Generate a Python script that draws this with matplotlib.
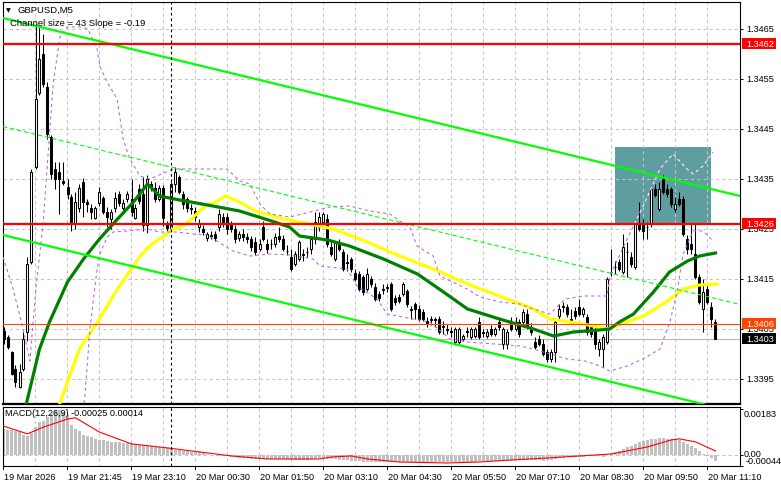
import numpy as np
import matplotlib
matplotlib.use('Agg')
import matplotlib.pyplot as plt
from matplotlib.patches import Rectangle
from matplotlib.transforms import blended_transform_factory

plt.rcParams['font.family'] = ['Liberation Sans', 'DejaVu Sans']

# ---------------- data (GBPUSD M5, prices in points: 1 point = 0.00001) -------------
opens = [134046, 134034, 134004, 133970, 133934, 133970, 134044, 134184, 134374, 134522,
         134600, 134534, 134434, 134370, 134364, 134346, 134334, 134314, 134262, 134292,
         134344, 134304, 134292, 134272, 134302, 134312, 134284, 134270, 134292, 134320,
         134292, 134310, 134310, 134272, 134330, 134320, 134258, 134340, 134332, 134310,
         134332, 134262, 134250, 134340, 134354, 134320, 134310, 134292, 134286, 134254,
         134250, 134232, 134238, 134240, 134254, 134274, 134274, 134260, 134250, 134232,
         134240, 134234, 134230, 134224, 134210, 134254, 134220, 134220, 134220, 134236,
         134230, 134206, 134194, 134180, 134190, 134200, 134204, 134210, 134230, 134254,
         134264, 134270, 134214, 134190, 134224, 134204, 134184, 134190, 134162, 134160,
         134154, 134130, 134150, 134134, 134120, 134130, 134134, 134140, 134112, 134114,
         134120, 134126, 134090, 134100, 134090, 134084, 134066, 134070, 134070, 134070,
         134056, 134050, 134046, 134024, 134024, 134030, 134046, 134034, 134036, 134064,
         134044, 134036, 134050, 134040, 134064, 134020, 134020, 134064, 134050, 134064,
         134064, 134080, 134054, 134024, 134030, 134020, 134004, 133990, 134004, 134076,
         134096, 134094, 134070, 134086, 134094, 134080, 134074, 134054, 134050, 134010,
         134010, 134024, 134164, 134174, 134184, 134164, 134204, 134194, 134174, 134260,
         134260, 134254, 134260, 134330, 134290, 134350, 134330, 134330, 134290, 134310,
         134310, 134230, 134220, 134200, 134154, 134090, 134130, 134094, 134064]
highs = [134054, 134038, 134006, 133978, 133980, 134044, 134194, 134370, 134660, 134656,
         134640, 134544, 134438, 134384, 134384, 134384, 134350, 134320, 134324, 134340,
         134352, 134310, 134300, 134296, 134334, 134316, 134294, 134290, 134324, 134326,
         134310, 134326, 134350, 134300, 134340, 134354, 134358, 134346, 134344, 134338,
         134338, 134266, 134344, 134374, 134358, 134326, 134314, 134300, 134294, 134270,
         134258, 134244, 134246, 134246, 134290, 134282, 134282, 134266, 134258, 134246,
         134250, 134242, 134236, 134234, 134230, 134266, 134230, 134230, 134242, 134254,
         134238, 134218, 134210, 134206, 134228, 134210, 134214, 134236, 134284, 134284,
         134284, 134280, 134224, 134224, 134230, 134210, 134200, 134194, 134170, 134166,
         134158, 134172, 134156, 134142, 134126, 134140, 134140, 134144, 134118, 134120,
         134144, 134130, 134096, 134104, 134098, 134090, 134074, 134076, 134074, 134076,
         134066, 134060, 134054, 134054, 134054, 134040, 134054, 134054, 134054, 134074,
         134050, 134050, 134058, 134054, 134070, 134054, 134050, 134074, 134074, 134070,
         134090, 134090, 134062, 134034, 134038, 134030, 134010, 134010, 134070, 134100,
         134104, 134100, 134090, 134094, 134110, 134094, 134080, 134060, 134056, 134030,
         134040, 134154, 134210, 134186, 134190, 134240, 134224, 134204, 134264, 134304,
         134270, 134264, 134334, 134340, 134344, 134358, 134340, 134334, 134314, 134324,
         134316, 134238, 134260, 134260, 134160, 134150, 134140, 134104, 134070]
lows = [134020, 134010, 133958, 133934, 133932, 133966, 134026, 134180, 134370, 134518,
        134534, 134430, 134350, 134330, 134280, 134338, 134310, 134246, 134250, 134284,
        134274, 134284, 134270, 134270, 134296, 134280, 134254, 134250, 134284, 134296,
        134280, 134304, 134276, 134270, 134300, 134246, 134242, 134326, 134304, 134306,
        134256, 134240, 134246, 134324, 134320, 134290, 134284, 134280, 134266, 134244,
        134238, 134226, 134230, 134226, 134246, 134254, 134240, 134244, 134222, 134226,
        134226, 134222, 134206, 134198, 134206, 134226, 134202, 134210, 134214, 134224,
        134206, 134198, 134166, 134176, 134186, 134186, 134194, 134200, 134220, 134246,
        134258, 134214, 134196, 134186, 134206, 134166, 134166, 134164, 134146, 134126,
        134118, 134126, 134134, 134106, 134106, 134120, 134124, 134086, 134098, 134102,
        134116, 134094, 134070, 134070, 134066, 134066, 134054, 134058, 134054, 134040,
        134040, 134040, 134034, 134018, 134020, 134026, 134034, 134030, 134032, 134030,
        134034, 134032, 134036, 134036, 134048, 134010, 134010, 134046, 134046, 134034,
        134058, 134050, 134038, 134010, 134016, 133996, 133984, 133984, 133984, 134070,
        134084, 134074, 134060, 134070, 134076, 134074, 134038, 134034, 134010, 133996,
        133974, 134020, 134156, 134160, 134166, 134160, 134154, 134174, 134170, 134246,
        134230, 134230, 134254, 134314, 134286, 134320, 134314, 134294, 134284, 134296,
        134236, 134200, 134200, 134150, 134100, 134044, 134100, 134054, 134030]
closes = [134030, 134014, 133960, 133944, 133964, 134030, 134180, 134364, 134510, 134590,
          134540, 134440, 134360, 134350, 134350, 134342, 134320, 134264, 134304, 134332,
          134304, 134300, 134284, 134292, 134324, 134284, 134274, 134284, 134312, 134302,
          134302, 134320, 134284, 134292, 134306, 134258, 134350, 134332, 134310, 134332,
          134272, 134252, 134340, 134364, 134324, 134300, 134292, 134290, 134274, 134260,
          134244, 134240, 134236, 134232, 134280, 134260, 134250, 134250, 134230, 134240,
          134234, 134230, 134214, 134204, 134220, 134230, 134210, 134220, 134234, 134230,
          134210, 134206, 134170, 134200, 134224, 134198, 134204, 134230, 134264, 134274,
          134280, 134220, 134200, 134224, 134210, 134170, 134182, 134170, 134150, 134130,
          134124, 134160, 134140, 134110, 134112, 134128, 134132, 134090, 134104, 134106,
          134140, 134100, 134088, 134090, 134070, 134070, 134060, 134068, 134068, 134044,
          134054, 134048, 134044, 134050, 134050, 134036, 134044, 134050, 134050, 134034,
          134042, 134044, 134040, 134050, 134054, 134050, 134044, 134050, 134064, 134040,
          134084, 134056, 134044, 134014, 134020, 134000, 133990, 134004, 134064, 134090,
          134094, 134080, 134068, 134076, 134080, 134090, 134044, 134040, 134020, 134024,
          134034, 134150, 134164, 134174, 134170, 134214, 134204, 134180, 134260, 134250,
          134246, 134254, 134330, 134318, 134330, 134324, 134320, 134300, 134300, 134300,
          134240, 134210, 134210, 134154, 134104, 134124, 134104, 134070, 134030]

# moving averages (bar index, price in points)
ma_green_bars = [4.5, 6, 9, 11.5, 16, 20, 24, 28.5, 32.5, 36, 39, 44, 51, 59, 67, 71.5, 74, 81,
                 86.5, 95, 103.5, 110, 116, 124, 132.5, 137.5, 142.5, 149, 151.5, 154, 157.5,
                 162.5, 166.5, 171, 174, 178]
ma_green_vals = [133860, 133910, 134010, 134064, 134144, 134190, 134230, 134270, 134304, 134340,
                 134316, 134308, 134298, 134286, 134266, 134254, 134236, 134228, 134216, 134190,
                 134160, 134124, 134090, 134070, 134050, 134036, 134044, 134048, 134050, 134064,
                 134080, 134124, 134164, 134186, 134196, 134202]
ma_yellow_bars = [12, 14, 19, 24, 28.5, 32.5, 34, 36.5, 42.5, 45, 50.5, 53.5, 55.5, 59, 63, 70,
                  74, 82.5, 91, 99, 107.5, 116, 124, 132.5, 136.5, 145, 151, 160, 166, 170, 174,
                  178.5]
ma_yellow_vals = [133830, 133900, 134010, 134070, 134130, 134176, 134194, 134216, 134250, 134256,
                  134296, 134306, 134316, 134304, 134286, 134270, 134264, 134250, 134224, 134196,
                  134170, 134140, 134116, 134090, 134070, 134060, 134050, 134076, 134106, 134130,
                  134138, 134140]
# Bollinger bands
bb_up_bars = [-0.1, 2.4, 4.9, 6.6, 8.1, 9.9, 12.4, 14.1, 15.9, 19.1, 21.1, 23.4, 24.1, 25.9, 28.4,
              29.9, 31.6, 34.1, 36.6, 42.4, 48.4, 55.9, 59.1, 61.6, 64.1, 66.6, 71.6, 76.6, 81.6,
              86.6, 91.6, 96.6, 99.1, 101.6, 103.4, 107.4, 109.1, 115.9, 119.1, 124.1, 129.1,
              132.4, 136.6, 140.4, 144.9, 150.9, 151.6, 155.9, 159.9, 164.1, 167.4, 170.9, 172.4,
              174.9, 177.4]
bb_up_vals = [134194, 134130, 134050, 133986, 134130, 134260, 134540, 134634, 134654, 134654,
              134650, 134610, 134576, 134544, 134510, 134430, 134390, 134356, 134350, 134370,
              134370, 134370, 134346, 134340, 134300, 134280, 134274, 134284, 134294, 134296,
              134286, 134280, 134266, 134254, 134216, 134196, 134156, 134130, 134114, 134104,
              134100, 134090, 134080, 134110, 134116, 134116, 134156, 134230, 134296, 134370,
              134400, 134370, 134360, 134376, 134404]
bb_dn_bars = [-0.1, 4.1, 14.1, 19.1, 20.4, 21.6, 23.4, 24.1, 25.9, 27.4, 30.9, 35.9, 39.1, 43.4,
              47.4, 50.9, 57.4, 61.6, 66.6, 71.6, 77.4, 79.1, 85.9, 88.4, 93.4, 95.9, 102.4,
              106.6, 111.6, 115.9, 122.9, 129.1, 132.4, 136.6, 140.9, 145.4, 149.1, 151.6, 155.9,
              159.9, 164.1, 166.6, 168.4, 169.9, 172.4, 174.9, 177.4]
bb_dn_vals = [133850, 133750, 133670, 133830, 133920, 134050, 134170, 134200, 134234, 134244,
              134246, 134250, 134244, 134244, 134240, 134238, 134206, 134196, 134200, 134198,
              134190, 134176, 134170, 134136, 134110, 134080, 134070, 134064, 134030, 134024,
              134020, 134016, 134010, 134000, 133990, 133986, 133976, 133966, 133976, 133990,
              134010, 134064, 134124, 134200, 134246, 134246, 134226]
# regression channel (Channel size = 43, Slope = -0.19)
chan_bars = [-0.125, 184.125]
chan_upper = [134672, 134316]
chan_mid = [134455, 134099]
chan_lower = [134238, 133882]
# horizontal levels
level_red = [1.3462, 1.3426]
level_orange = 1.3406
level_bid = 1.3403
zone = (152.9, 176.9, 1.3426, 1.34414)   # bar from, bar to, price low, price high
day_sep_bar = 42
# MACD (12,26,9) main histogram, points
macd = [103, 100, 98, 95, 92, 78, 75, 88, 110, 130, 135,
        150, 165, 178, 180, 172, 160, 120, 105, 95,
        80, 75, 70, 65, 60, 58, 55, 53, 52, 50, 48, 47, 46, 45,
        40, 38, 36, 34, 32, 30, 28, 26, 22, 20, 18, 16, 15, 13, 12, 10,
        6, 3, 0, -2, -3, -4, -6, -8, -10,
        -12, -13, -14, -15, -16, -16, -15, -16, -17, -16, -16, -17, -18, -20, -20, -19, -19, -19,
        -18, -16, -14, -13, -15, -17, -18,
        -19, -21, -22, -23, -24, -26, -27, -27, -27, -28, -28, -28,
        -28, -29, -29, -29, -28, -28, -29, -29, -29, -29, -29, -29, -28, -28, -28, -28, -28, -28,
        -27, -27, -27, -27, -27, -26, -26, -26, -25, -25, -25, -24,
        -24, -23, -22, -22, -21, -20, -21, -22, -22, -23,
        -22, -20, -16, -13, -11, -10, -9, -9,
        -8, -7, -6, -6, -6, -6, -7, -2, 4,
        10, 16, 24, 30, 36, 44, 50, 54, 58,
        62, 64, 66, 66, 65, 64, 62, 60,
        52, 44, 36, 26, 14, 4, -4, -14, -25]
sig_bars = [0, 6, 10, 16, 18, 24, 32, 41, 49, 57, 66, 79, 82, 87, 91, 99, 111, 119, 127, 136,
            144, 152, 161, 167, 169, 173, 178]
sig_vals = [115, 84, 111, 143, 148, 91, 44, 28, 12, -4, -16, -16, -8, -4, -16, -28, -32, -28,
            -20, -12, -4, 4, 32, 60, 64, 52, 16]
price_ticks = [1.3465, 1.3455, 1.3445, 1.3435, 1.3425, 1.3415, 1.3405, 1.3395]
time_labels = ["19 Mar 2026", "19 Mar 21:45", "19 Mar 23:10", "20 Mar 00:30", "20 Mar 01:50",
               "20 Mar 03:10", "20 Mar 04:30", "20 Mar 05:50", "20 Mar 07:10", "20 Mar 08:30",
               "20 Mar 09:50", "20 Mar 11:10"]

P = 1e-5
o = np.array(opens) * P
h = np.array(highs) * P
l = np.array(lows) * P
c = np.array(closes) * P
idx = np.arange(len(o))

W, H = 781, 489
fig = plt.figure(figsize=(W / 100, H / 100), dpi=100)
fig.patch.set_facecolor('white')

YMIN, YMAX = 1.33900, 1.34704
XMIN, XMAX = -0.125, 184.125
TOP, BOT, LEFT, RIGHT = 3, 405, 3, 740
MT, MB = 408, 467

ax = fig.add_axes([LEFT / W, 1 - BOT / H, (RIGHT - LEFT) / W, (BOT - TOP) / H])
ax2 = fig.add_axes([LEFT / W, 1 - MB / H, (RIGHT - LEFT) / W, (MB - MT) / H])
for a in (ax, ax2):
    a.set_xlim(XMIN, XMAX)
    a.set_facecolor('white')
    for s in a.spines.values():
        s.set_linewidth(0.8)
        s.set_color('black')
    a.set_xticks([])
    a.tick_params(axis='y', left=False, labelleft=False, right=True, labelright=False,
                  length=2.5, width=0.7, direction='out')
ax.spines['bottom'].set_linewidth(1.6)
ax.set_ylim(YMIN, YMAX)
ax2.set_ylim(-0.000438, 0.00191)

grid_kw = dict(color='#c4c4c4', lw=0.75, linestyles=(0, (3, 3)), zorder=1)
vgrid = [8 * k - 0.125 for k in range(1, 23)]
ax.vlines(vgrid, YMIN, YMAX, **grid_kw)
ax.hlines(price_ticks, XMIN, XMAX, **grid_kw)
ax2.vlines(vgrid, -0.001, 0.003, **grid_kw)
ax2.hlines([0], XMIN, XMAX, **grid_kw)

# zone rectangle
zone_rect = Rectangle((zone[0], zone[2]), zone[1] - zone[0], zone[3] - zone[2],
                      fc='#5f9ea0', ec='none', zorder=0.8)
ax.add_patch(zone_rect)

# bid line
ax.axhline(level_bid, color='#b8b8b8', lw=0.8, zorder=1.5)

# candles
ax.vlines(idx, l, h, color='black', lw=0.75, zorder=3)
up = c >= o
bb = np.minimum(o, c)
bh = np.maximum(np.abs(c - o), 0.000004)
ax.bar(idx[up], bh[up], bottom=bb[up], width=0.5, color='white', edgecolor='black',
       lw=0.75, zorder=4)
ax.bar(idx[~up], bh[~up], bottom=bb[~up], width=0.5, color='black', edgecolor='black',
       lw=0.75, zorder=4)

# indicators
ax.plot(ma_yellow_bars, np.array(ma_yellow_vals) * P, color='#ffff00', lw=2.3, zorder=5,
        solid_joinstyle='round')
ax.plot(ma_green_bars, np.array(ma_green_vals) * P, color='#008000', lw=2.3, zorder=6,
        solid_joinstyle='round')
bbcol = '#b464e0'
ax.plot(bb_up_bars, np.array(bb_up_vals) * P, color=bbcol, lw=0.75, ls=(0, (3, 3)), zorder=5.5)
ax.plot(bb_dn_bars, np.array(bb_dn_vals) * P, color=bbcol, lw=0.75, ls=(0, (3, 3)), zorder=5.5)
# inside the zone the band shows as white dashes
wline, = ax.plot(bb_up_bars, np.array(bb_up_vals) * P, color='white', lw=0.75,
                 ls=(0, (3, 3)), zorder=5.6)
wline.set_clip_path(zone_rect)
ax.plot(chan_bars, np.array(chan_upper) * P, color='#00ff00', lw=1.6, zorder=7)
ax.plot(chan_bars, np.array(chan_lower) * P, color='#00ff00', lw=1.6, zorder=7)
ax.plot(chan_bars, np.array(chan_mid) * P, color='#00ff00', lw=0.8, ls=(0, (4, 2.5)), zorder=7)

for lv in level_red:
    ax.axhline(lv, color='#ff0000', lw=1.6, zorder=8)
ax.axhline(level_orange, color='#ff4500', lw=0.8, zorder=8)

# day separator
for a in (ax, ax2):
    a.axvline(day_sep_bar, color='black', lw=0.8, ls=(0, (2.5, 2.5)), zorder=9)

# MACD
ax2.bar(idx, np.array(macd) * P, width=0.6, color='#c0c0c0', zorder=2)
ax2.plot(sig_bars, np.array(sig_vals) * P, color='#ff0000', lw=0.8, zorder=3)

ax.set_yticks(price_ticks)
ax2.set_yticks([0.00183, 0.0, -0.00044])

FS = 6.6
ytr = blended_transform_factory(ax.transAxes, ax.transData)
lx = (746 - LEFT) / (RIGHT - LEFT)
for p in price_ticks:
    ax.text(lx, p, f"{p:.4f}", transform=ytr, fontsize=FS, va='center', ha='left',
            clip_on=False, color='black')


def ypix(price):
    return TOP + (YMAX - price) / (YMAX - YMIN) * (BOT - TOP)


def box_label(price, fc):
    yp = ypix(price)
    fig.add_artist(Rectangle((742 / W, 1 - (yp + 5.5) / H), 34 / W, 11 / H,
                             transform=fig.transFigure, fc=fc, ec='none', zorder=2))
    fig.text(746 / W, 1 - yp / H, f"{price:.4f}", fontsize=FS, color='white',
             va='center', ha='left', zorder=3)


for lv in level_red:
    box_label(lv, '#ff0000')
box_label(level_orange, '#ff4500')
box_label(level_bid, '#000000')

# MACD axis labels
fig.text(744 / W, 1 - 414.5 / H, "0.00183", fontsize=FS, va='center', ha='left')
fig.text(744 / W, 1 - 455 / H, "0.00", fontsize=FS, va='center', ha='left')
fig.text(746 / W, 1 - 461.5 / H, "-0.00044", fontsize=FS, va='center', ha='left')

# time axis labels
for k, lab in enumerate(time_labels):
    xp = LEFT + 64 * k
    fig.text((xp + 1) / W, 1 - 478 / H, lab, fontsize=FS, va='center', ha='left')
    fig.add_artist(plt.Line2D([xp / W, xp / W], [1 - MB / H, 1 - (MB + 3) / H],
                              transform=fig.transFigure, color='black', lw=0.7))

# header texts
fig.text(6 / W, 1 - 10.5 / H, "\u25bc", fontsize=4.5, family='DejaVu Sans', va='center',
         ha='left', zorder=10)
fig.text(18 / W, 1 - 10.5 / H, "GBPUSD,M5", fontsize=FS + 0.2, va='center', ha='left',
         zorder=10)
fig.text(10 / W, 1 - 23 / H, "Channel size = 43 Slope = -0.19", fontsize=FS + 0.2,
         va='center', ha='left', zorder=10)
fig.text(5 / W, 1 - 414 / H, "MACD(12,26,9) -0.00025 0.00014", fontsize=FS, va='center',
         ha='left', zorder=10)

fig.savefig('out.png', dpi=100)
